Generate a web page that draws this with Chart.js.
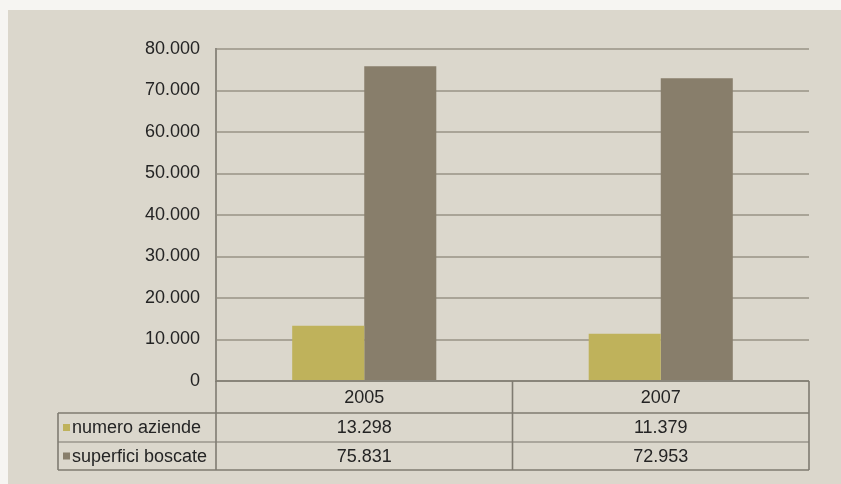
<!DOCTYPE html>
<html>
<head>
<meta charset="utf-8">
<script src="https://cdn.jsdelivr.net/npm/chart.js@4.4.1/dist/chart.umd.min.js"></script>
<style>
  html, body { margin: 0; padding: 0; }
  body {
    width: 841px; height: 484px; overflow: hidden;
    background:
      linear-gradient(to bottom, #f6f5f2 0, #f6f5f2 10px, rgba(0,0,0,0) 10px),
      linear-gradient(to right, #f6f5f2 0, #f6f5f2 8px, #dbd7cc 8px);
  }
  #wrap { position: relative; width: 841px; height: 484px; }
</style>
</head>
<body>
<div id="wrap"><canvas id="chart" width="841" height="484"></canvas></div>
<script>
// Anni rilevati
const years = ['2005', '2007'];
// Serie
const seriesNames = ['numero aziende', 'superfici boscate'];
const numeroAziende = [13298, 11379];
const superficiBoscate = [75831, 72953];
// Asse verticale
const yMin = 0;
const yMax = 80000;
const yStep = 10000;

const colors = ['#bfb25b', '#887e6b'];
const textColor = '#242424';
const fontFamily = '"Liberation Sans", Arial, sans-serif';

// Separatore delle migliaia all'italiana
function fmt(n) {
  return String(n).replace(/\B(?=(\d{3})+(?!\d))/g, '.');
}

// Tabella dati sotto il grafico, allineata alle colonne dell'asse x
const dataTable = {
  id: 'dataTable',
  afterDraw(chart) {
    const ctx = chart.ctx;
    const ca = chart.chartArea;
    const xs = chart.scales.x;
    const left = 58;
    const y0 = ca.bottom;
    const h1 = y0 + 32;
    const r1 = h1 + 29;
    const r2 = r1 + 28;
    const cx = years.map((_, i) => xs.getPixelForValue(i));
    const mid = (cx[0] + cx[1]) / 2;

    ctx.save();
    ctx.lineWidth = 1.6;
    const line = (x1, y1, x2, y2, c) => {
      ctx.beginPath();
      ctx.strokeStyle = c || '#7f7b71';
      ctx.moveTo(x1, y1); ctx.lineTo(x2, y2); ctx.stroke();
    };
    line(ca.left, y0, ca.right, y0);
    line(left, h1, ca.right, h1);
    line(left, r1, ca.right, r1, '#9a968c');
    line(left, r2, ca.right, r2);
    line(left, h1, left, r2);
    line(ca.left, y0, ca.left, r2);
    line(mid, y0, mid, r2);
    line(ca.right, y0, ca.right, r2);

    ctx.fillStyle = textColor;
    ctx.font = '18px ' + fontFamily;
    ctx.textAlign = 'center';
    ctx.textBaseline = 'middle';
    years.forEach((y, i) => ctx.fillText(y, cx[i], (y0 + h1) / 2 + 1));

    const rows = [numeroAziende, superficiBoscate];
    const rowMid = [(h1 + r1) / 2 + 1, (r1 + r2) / 2 + 1];
    rows.forEach((vals, r) => {
      vals.forEach((v, i) => {
        ctx.textAlign = 'center';
        ctx.fillStyle = textColor;
        ctx.fillText(fmt(v), cx[i], rowMid[r]);
      });
      ctx.fillStyle = colors[r];
      ctx.fillRect(left + 5, rowMid[r] - 4.5, 7, 7);
      ctx.fillStyle = textColor;
      ctx.textAlign = 'left';
      ctx.fillText(seriesNames[r], left + 14, rowMid[r]);
    });
    ctx.restore();
  }
};

new Chart(document.getElementById('chart'), {
  type: 'bar',
  data: {
    labels: years,
    datasets: [
      { label: seriesNames[0], data: numeroAziende, backgroundColor: colors[0] },
      { label: seriesNames[1], data: superficiBoscate, backgroundColor: colors[1] }
    ]
  },
  options: {
    responsive: false,
    animation: false,
    events: [],
    categoryPercentage: 0.486,
    barPercentage: 1,
    layout: { padding: { top: 49, right: 32, bottom: 0, left: 0 } },
    plugins: { legend: { display: false }, tooltip: { enabled: false } },
    scales: {
      x: {
        grid: { display: false, drawTicks: false },
        border: { display: false },
        ticks: { display: false },
        afterFit(scale) { scale.height = 103; }
      },
      y: {
        min: yMin,
        max: yMax,
        ticks: {
          stepSize: yStep,
          padding: 16,
          color: textColor,
          font: { family: fontFamily, size: 18 },
          callback: v => fmt(v)
        },
        grid: { color: '#a9a497', lineWidth: 2, drawTicks: false },
        border: { display: true, color: '#8e8a80', width: 2 },
        afterFit(scale) { scale.width = 216; }
      }
    }
  },
  plugins: [dataTable]
});
</script>
</body>
</html>
